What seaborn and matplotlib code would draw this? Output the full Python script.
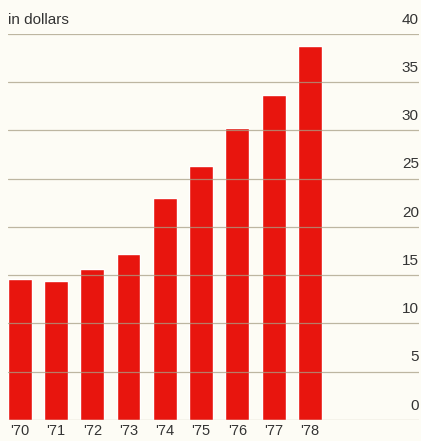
import matplotlib
matplotlib.use("Agg")
import matplotlib.pyplot as plt
import matplotlib.transforms as mtransforms
import seaborn as sns
import pandas as pd

years = ["'70", "'71", "'72", "'73", "'74", "'75", "'76", "'77", "'78"]
values = [14.6, 14.4, 15.6, 17.2, 23.0, 26.3, 30.2, 33.7, 38.8]
yticks = [0, 5, 10, 15, 20, 25, 30, 35, 40]
unit_label = "in dollars"

sns.set_theme(style="white")
plt.rcParams['font.family'] = ['Liberation Sans', 'DejaVu Sans']

bg = "#fdfcf5"
fig = plt.figure(figsize=(4.21, 4.41), dpi=100, facecolor=bg)
ax = fig.add_axes([0.019, 0.048, 0.976, 0.875], facecolor=bg)

df = pd.DataFrame({"year": years, "value": values})
sns.barplot(data=df, x="year", y="value", color="#e8150e", saturation=1,
            width=0.66, ax=ax, zorder=2)

ax.set_xlim(-0.32, 11.0)
ax.set_ylim(0, 40)
for s in ax.spines.values():
    s.set_visible(False)
ax.set_xlabel("")
ax.set_ylabel("")
ax.set_yticks([])
ax.tick_params(axis="x", length=0, pad=3, labelsize=10.5, labelcolor="#333333")

trans = mtransforms.blended_transform_factory(ax.transAxes, ax.transData)
for t in yticks:
    ax.axhline(t, color="#a89f85", lw=0.9, alpha=0.75, zorder=3)
    ax.text(1.0, t + 0.75, str(t), transform=trans, ha="right", va="bottom",
            fontsize=11, color="#333333")

ax.text(0.0, 40.75, unit_label, transform=trans, ha="left", va="bottom",
        fontsize=11, color="#333333")

fig.savefig("out.png", dpi=100, facecolor=bg)
